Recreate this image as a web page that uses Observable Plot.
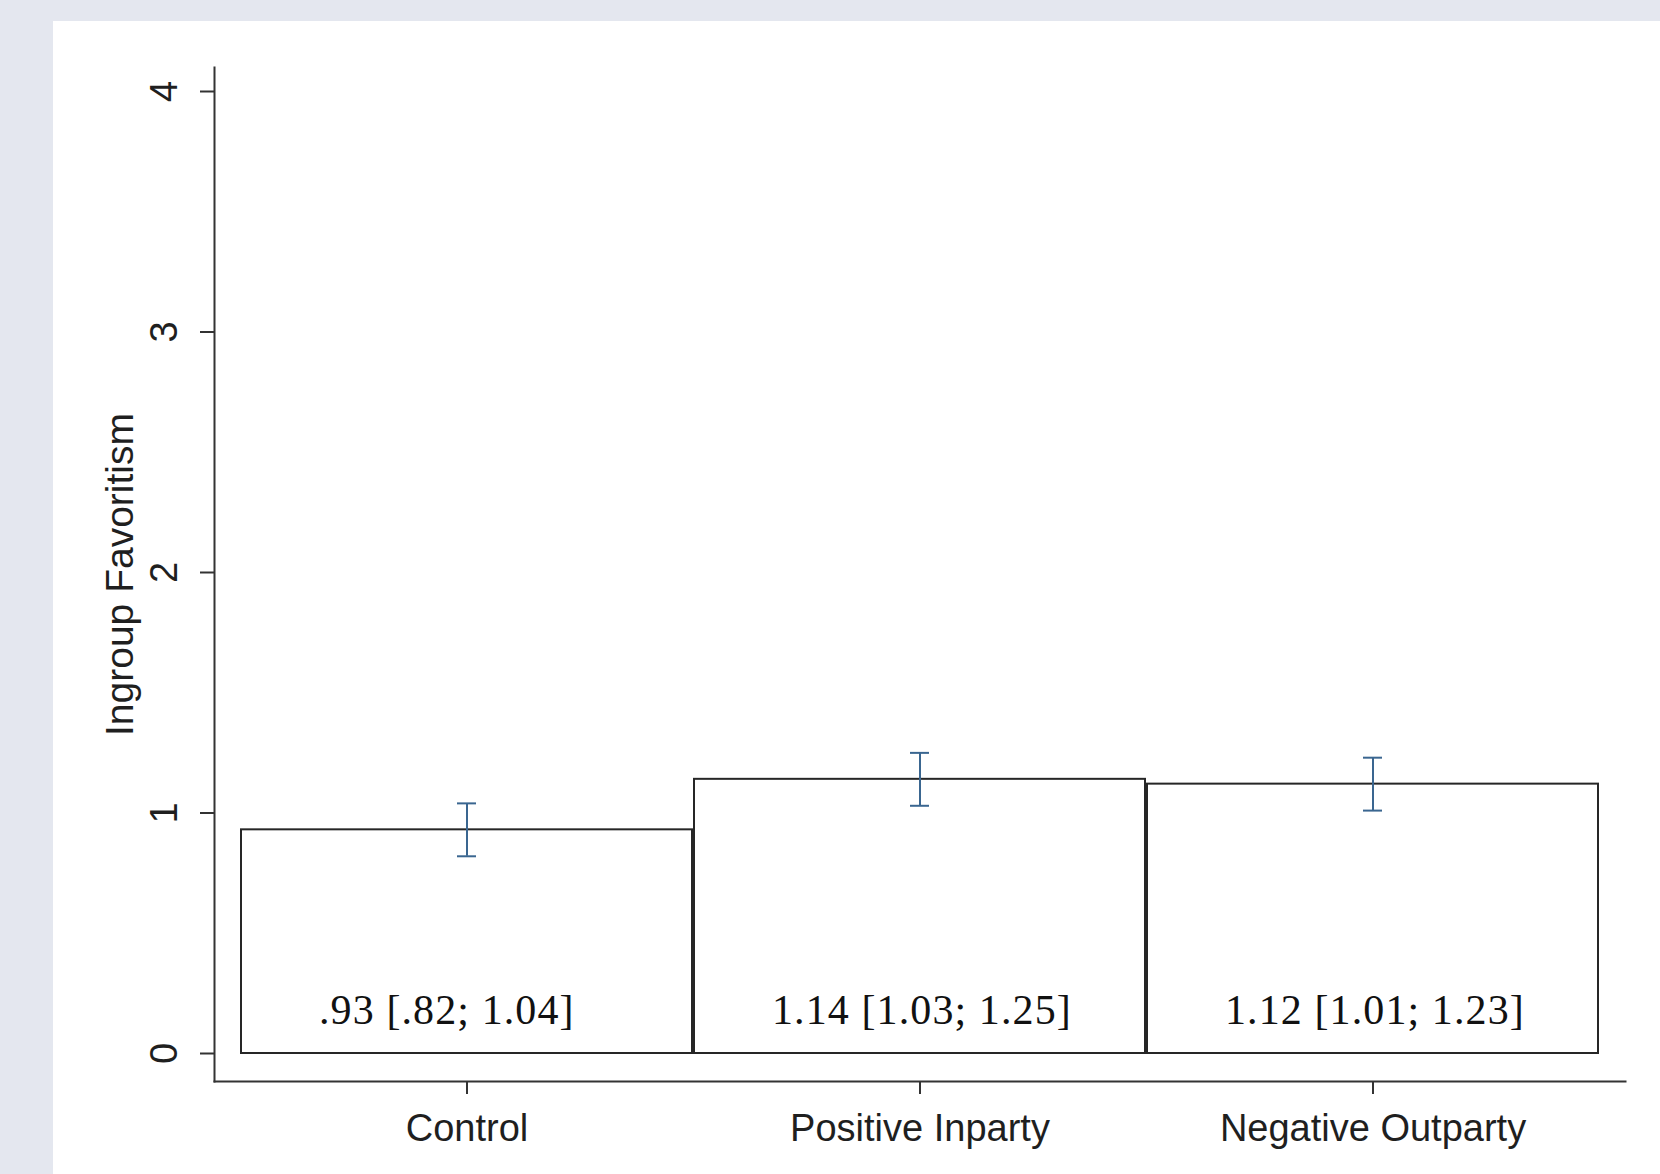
<!DOCTYPE html>
<html>
<head>
<meta charset="utf-8">
<script src="https://cdn.jsdelivr.net/npm/d3@7"></script>
<script src="https://cdn.jsdelivr.net/npm/@observablehq/plot@0.6"></script>
<style>
  html, body { margin: 0; padding: 0; }
  body { width: 1660px; height: 1174px; background: #e4e7ef; position: relative; overflow: hidden; }
  #panel { position: absolute; left: 53px; top: 21px; right: 0; bottom: 0; background: #ffffff; }
  #chart { position: absolute; left: 0; top: 0; }
</style>
</head>
<body>
<div id="panel"></div>
<div id="chart"></div>
<script>
// Treatment conditions and mean ingroup favoritism with 95% CI bounds
const conditions = ["Control", "Positive Inparty", "Negative Outparty"];
const means = [0.93, 1.14, 1.12];
const lower = [0.82, 1.03, 1.01];
const upper = [1.04, 1.25, 1.23];
const yTicks = [0, 1, 2, 3, 4];
const yTitle = "Ingroup Favoritism";

const rows = conditions.map((c, i) => ({condition: c, mean: means[i], lo: lower[i], hi: upper[i]}));

// Two decimals, leading zero dropped (".93")
const fmt = v => d3.format(".2f")(v).replace(/^0\./, ".");

const axisColor = "#333333";
const ciColor = "#3a6690";
const sans = "'Liberation Sans', Arial, sans-serif";
const serif = "'Liberation Serif', 'Times New Roman', serif";

const chart = Plot.plot({
  width: 1660,
  height: 1174,
  marginTop: 67,
  marginBottom: 93,
  marginLeft: 214,
  marginRight: 35,
  style: {background: "transparent", fontFamily: sans, color: "#1f1f1f", overflow: "visible"},
  x: {domain: conditions, padding: 0, insetLeft: 25, insetRight: 25},
  y: {domain: [0, 4], insetTop: 24, insetBottom: 28},
  marks: [
    // bars
    Plot.barY(rows, {x: "condition", y: "mean", fill: "white", stroke: "#262626", strokeWidth: 2, insetLeft: 1, insetRight: 1}),
    // confidence intervals
    Plot.ruleX(rows, {x: "condition", y1: "lo", y2: "hi", stroke: ciColor, strokeWidth: 2}),
    Plot.tickY(rows, {x: "condition", y: "lo", stroke: ciColor, strokeWidth: 2, insetLeft: 217, insetRight: 217}),
    Plot.tickY(rows, {x: "condition", y: "hi", stroke: ciColor, strokeWidth: 2, insetLeft: 217, insetRight: 217}),
    // value labels inside the bars, left-aligned at a fixed offset within each bar
    Plot.text(rows, {
      x: "condition", y: 0,
      text: d => `${fmt(d.mean)} [${fmt(d.lo)}; ${fmt(d.hi)}]`,
      textAnchor: "start", dx: -148, dy: -43,
      fontFamily: serif, fontSize: 42, fill: "#111111"
    }),
    // axis lines
    Plot.frame({anchor: "left", stroke: axisColor, strokeWidth: 2}),
    Plot.frame({anchor: "bottom", stroke: axisColor, strokeWidth: 2}),
    // y axis ticks and rotated labels
    Plot.axisY(yTicks, {tickSize: 14, fill: "none", stroke: axisColor, strokeWidth: 2, label: null}),
    Plot.text(yTicks, {y: d => d, text: d => String(d), frameAnchor: "left", textAnchor: "middle", lineAnchor: "middle", dx: -50, rotate: -90, fontSize: 38, fill: "#1f1f1f"}),
    // x axis ticks and labels
    Plot.axisX({tickSize: 13, fill: "none", stroke: axisColor, strokeWidth: 2, label: null}),
    Plot.text(conditions, {x: d => d, text: d => d, frameAnchor: "bottom", textAnchor: "middle", lineAnchor: "middle", dy: 47, fontSize: 38, fill: "#1f1f1f"}),
    // y axis title
    Plot.text([yTitle], {text: d => d, frameAnchor: "left", textAnchor: "middle", lineAnchor: "middle", dx: -94, rotate: -90, fontSize: 39, fill: "#1f1f1f"})
  ]
});

// slightly looser tracking for the serif value labels
d3.select(chart).selectAll("g[font-family*='Serif'] text").attr("letter-spacing", "1.1px");

document.getElementById("chart").appendChild(chart);
</script>
</body>
</html>
